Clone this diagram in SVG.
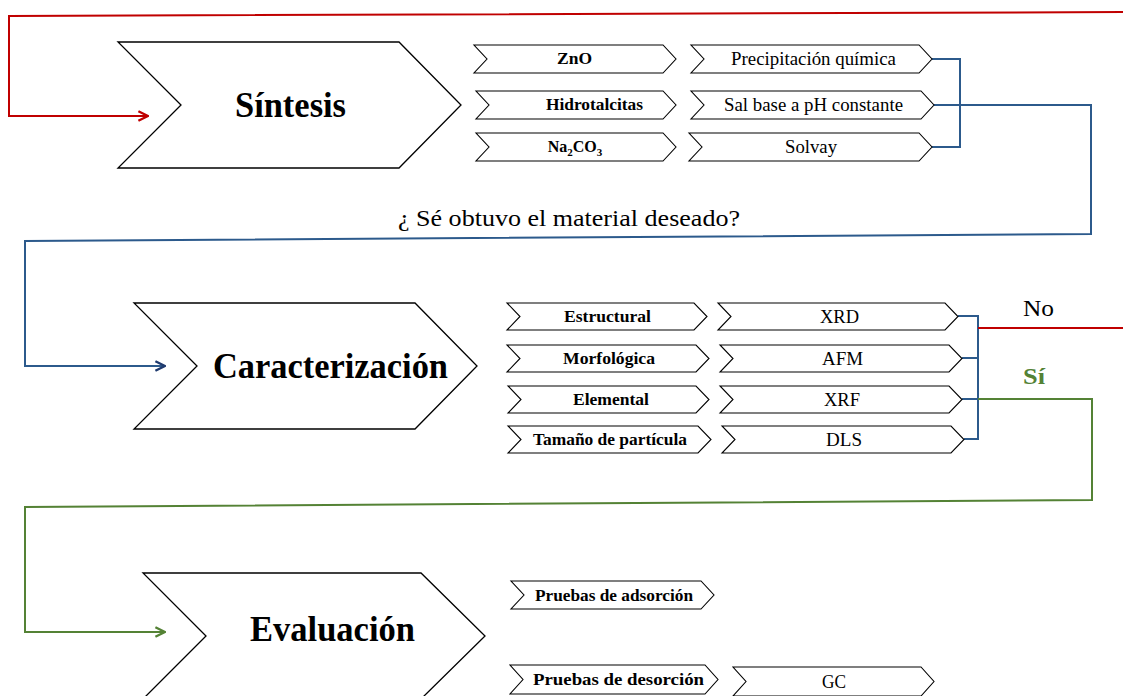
<svg xmlns="http://www.w3.org/2000/svg" width="1123" height="696" viewBox="0 0 1123 696">
<defs>
<style>
.big{fill:#fff;stroke:#000;stroke-width:1.3;stroke-linejoin:miter}
.sm{fill:#fff;stroke:#000;stroke-width:1.1}
.t{font-family:"Liberation Serif","Times New Roman",serif;fill:#000;text-anchor:middle}
.title{font-size:35px;font-weight:bold}
.lb{font-size:16px;font-weight:bold}
.lr{font-size:18px}
.line{fill:none;stroke-width:2}
.red{stroke:#C00000}
.blue{stroke:#2C5A8C}
.green{stroke:#548235}
</style>
<marker id="ar" viewBox="0 0 10 10" refX="9" refY="5" markerWidth="10" markerHeight="10" markerUnits="userSpaceOnUse" orient="auto"><path d="M1,1 L9,5 L1,9" fill="none" stroke="context-stroke" stroke-width="2"/></marker>
<marker id="arR" viewBox="0 0 10 10" refX="9" refY="5" markerWidth="12" markerHeight="12" markerUnits="userSpaceOnUse" orient="auto"><path d="M1,1 L9,5 L1,9" fill="none" stroke="#C00000" stroke-width="2"/></marker>
<marker id="arB" viewBox="0 0 10 10" refX="9" refY="5" markerWidth="12" markerHeight="12" markerUnits="userSpaceOnUse" orient="auto"><path d="M1,1 L9,5 L1,9" fill="none" stroke="#1F3A6E" stroke-width="2"/></marker>
<marker id="arG" viewBox="0 0 10 10" refX="9" refY="5" markerWidth="12" markerHeight="12" markerUnits="userSpaceOnUse" orient="auto"><path d="M1,1 L9,5 L1,9" fill="none" stroke="#548235" stroke-width="2"/></marker>
</defs>
<rect width="1123" height="696" fill="#fff"/>

<g id="connectors">
<polyline class="line red" points="1123,12 9,16 9,116 148,116" marker-end="url(#arR)"/>
<polyline class="line blue" points="932,59 960,59 960,147 932,147"/>
<line class="line blue" x1="934" y1="105" x2="960" y2="105"/>
<polyline class="line blue" points="960,105 1091,105 1091,234 25,241 25,366 165,366" marker-end="url(#arB)"/>
<polyline class="line blue" points="958,316 978,316 978,439 964,439"/>
<line class="line blue" x1="962" y1="358" x2="978" y2="358"/>
<line class="line blue" x1="962" y1="399" x2="978" y2="399"/>
<line class="line red" x1="978" y1="328" x2="1123" y2="328"/>
<polyline class="line green" points="978,399 1092,399 1092,500 25,507 25,632 165,632" marker-end="url(#arG)"/>
</g>

<g id="sintesis">
<polygon class="big" points="118,42 399,42 461,105 399,168 118,168 181,105"/>
<text class="t title" x="290.5" y="117" textLength="111" lengthAdjust="spacingAndGlyphs">Síntesis</text>
</g>
<g id="caracterizacion">
<polygon class="big" points="134,303 415,303 477,366 415,429 134,429 197,366"/>
<text class="t title" x="330.5" y="378" textLength="235" lengthAdjust="spacingAndGlyphs">Caracterización</text>
</g>
<g id="evaluacion">
<polygon class="big" points="143,573 421,573 485,636 421,699 143,699 206,636"/>
<text class="t title" x="332.5" y="641" textLength="165" lengthAdjust="spacingAndGlyphs">Evaluación</text>
</g>

<g id="zno">
<polygon class="sm" points="474,45 663,45 676,59 663,73 474,73 487,59"/>
<text class="t lb" x="574.5" y="64" textLength="35" lengthAdjust="spacingAndGlyphs">ZnO</text>
</g>
<g id="precipitacion">
<polygon class="sm" points="691,45 919,45 932,59 919,73 691,73 704,59"/>
<text class="t lr" x="813.5" y="65" textLength="165" lengthAdjust="spacingAndGlyphs">Precipitación química</text>
</g>
<g id="hidrotalcitas">
<polygon class="sm" points="476,91 663,91 676,105 663,119 476,119 489,105"/>
<text class="t lb" x="594.5" y="110" textLength="97" lengthAdjust="spacingAndGlyphs">Hidrotalcitas</text>
</g>
<g id="salbase">
<polygon class="sm" points="691,91 921,91 934,105 921,119 691,119 704,105"/>
<text class="t lr" x="813.5" y="111" textLength="179" lengthAdjust="spacingAndGlyphs">Sal base a pH constante</text>
</g>
<g id="na2co3">
<polygon class="sm" points="476,133 663,133 676,147 663,161 476,161 489,147"/>
<text class="t lb" x="575" y="152">Na<tspan font-size="11" dy="4">2</tspan><tspan dy="-4">CO</tspan><tspan font-size="11" dy="4">3</tspan></text>
</g>
<g id="solvay">
<polygon class="sm" points="689,133 919,133 932,147 919,161 689,161 702,147"/>
<text class="t lr" x="811" y="153" textLength="52" lengthAdjust="spacingAndGlyphs">Solvay</text>
</g>

<g id="estructural">
<polygon class="sm" points="507,303 694,303 707,316.5 694,330 507,330 520,316.5"/>
<text class="t lb" x="607.5" y="322" textLength="87" lengthAdjust="spacingAndGlyphs">Estructural</text>
</g>
<g id="xrd">
<polygon class="sm" points="718,303 945,303 958,316.5 945,330 718,330 731,316.5"/>
<text class="t lr" x="839.5" y="323" textLength="39" lengthAdjust="spacingAndGlyphs">XRD</text>
</g>
<g id="morfologica">
<polygon class="sm" points="507,345 696,345 709,358.5 696,372 507,372 520,358.5"/>
<text class="t lb" x="609" y="364" textLength="92" lengthAdjust="spacingAndGlyphs">Morfológica</text>
</g>
<g id="afm">
<polygon class="sm" points="720,345 949,345 962,358.5 949,372 720,372 733,358.5"/>
<text class="t lr" x="842.5" y="365" textLength="41" lengthAdjust="spacingAndGlyphs">AFM</text>
</g>
<g id="elemental">
<polygon class="sm" points="508,386 696,386 709,399.5 696,413 508,413 521,399.5"/>
<text class="t lb" x="611" y="405" textLength="76" lengthAdjust="spacingAndGlyphs">Elemental</text>
</g>
<g id="xrf">
<polygon class="sm" points="720,386 949,386 962,399.5 949,413 720,413 733,399.5"/>
<text class="t lr" x="842" y="406" textLength="36" lengthAdjust="spacingAndGlyphs">XRF</text>
</g>
<g id="tamano">
<polygon class="sm" points="508,426 698,426 711,439.5 698,453 508,453 521,439.5"/>
<text class="t lb" x="610" y="445" textLength="154" lengthAdjust="spacingAndGlyphs">Tamaño de partícula</text>
</g>
<g id="dls">
<polygon class="sm" points="722,426 951,426 964,439.5 951,453 722,453 735,439.5"/>
<text class="t lr" x="844" y="446" textLength="36" lengthAdjust="spacingAndGlyphs">DLS</text>
</g>

<g id="adsorcion">
<polygon class="sm" points="511,581 701,581 714,595 701,609 511,609 524,595"/>
<text class="t lb" x="614" y="601" textLength="158" lengthAdjust="spacingAndGlyphs">Pruebas de adsorción</text>
</g>
<g id="desorcion">
<polygon class="sm" points="510,665 705,665 718,679.5 705,694 510,694 523,679.5"/>
<text class="t lb" x="618.5" y="685" textLength="171" lengthAdjust="spacingAndGlyphs">Pruebas de desorción</text>
</g>
<g id="gc">
<polygon class="sm" points="733,667 921,667 934,681.5 921,696 733,696 746,681.5"/>
<text class="t lr" x="834" y="688" textLength="24" lengthAdjust="spacingAndGlyphs">GC</text>
</g>

<g id="labels">
<text class="t" x="569" y="226" font-size="23" textLength="342" lengthAdjust="spacingAndGlyphs">¿ Sé obtuvo el material deseado?</text>
<text class="t" x="1038.5" y="316" font-size="24" textLength="31" lengthAdjust="spacingAndGlyphs">No</text>
<text class="t" x="1034" y="384" font-size="23" font-weight="bold" fill="#548235" style="fill:#548235" textLength="22" lengthAdjust="spacingAndGlyphs">Sí</text>
</g>
</svg>
